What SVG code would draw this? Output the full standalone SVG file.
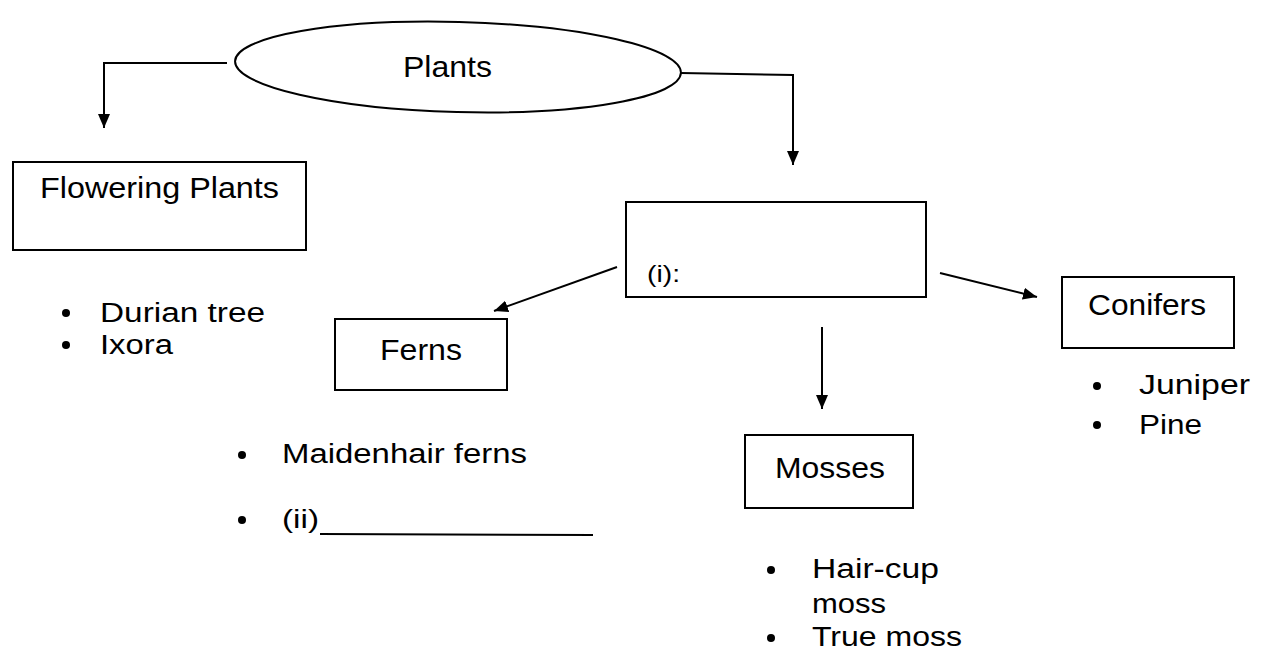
<svg xmlns="http://www.w3.org/2000/svg" width="1266" height="651" viewBox="0 0 1266 651">
<defs>
<style>
.bg{fill:#ffffff}
.box{fill:none;stroke:#000;stroke-width:2}
.ln{fill:none;stroke:#000;stroke-width:2}
.lbl{font-family:"Liberation Sans",Arial,sans-serif;font-size:29px;fill:#000}
.item{font-family:"Liberation Sans",Arial,sans-serif;font-size:27px;fill:#000}
.dot{fill:#000}
</style>
<marker id="ah" markerUnits="userSpaceOnUse" markerWidth="16" markerHeight="14" refX="14" refY="6" orient="auto">
<path d="M0,0 L14,6 L0,12 z" fill="#000"/>
</marker>
</defs>
<rect class="bg" x="0" y="0" width="1266" height="651"/>

<g id="connectors">
<path class="ln" d="M227,63 L104,63 L104,128" marker-end="url(#ah)"/>
<path class="ln" d="M681,73 L793,75 L793,165" marker-end="url(#ah)"/>
<path class="ln" d="M617,267 L494,311" marker-end="url(#ah)"/>
<path class="ln" d="M822,327 L822,409" marker-end="url(#ah)"/>
<path class="ln" d="M940,273 L1037,297" marker-end="url(#ah)"/>
</g>

<g id="plants">
<ellipse class="box" cx="458" cy="67" rx="223" ry="45" transform="rotate(1.5 458 67)"/>
<text class="lbl" x="403" y="77" textLength="89" lengthAdjust="spacingAndGlyphs">Plants</text>
</g>

<g id="flowering">
<rect class="box" x="13" y="162" width="293" height="88"/>
<text class="lbl" x="40" y="198" textLength="239" lengthAdjust="spacingAndGlyphs">Flowering Plants</text>
<circle class="dot" cx="66" cy="313" r="4"/>
<text class="item" x="100" y="322" textLength="165" lengthAdjust="spacingAndGlyphs">Durian tree</text>
<circle class="dot" cx="66" cy="345" r="4"/>
<text class="item" x="100" y="354" textLength="73" lengthAdjust="spacingAndGlyphs">Ixora</text>
</g>

<g id="blank-i">
<rect class="box" x="626" y="202" width="300" height="95"/>
<text class="item" x="647" y="282" style="font-size:24px" textLength="33" lengthAdjust="spacingAndGlyphs">(i):</text>
</g>

<g id="ferns">
<rect class="box" x="335" y="319" width="172" height="71"/>
<text class="lbl" x="380" y="360" textLength="82" lengthAdjust="spacingAndGlyphs">Ferns</text>
<circle class="dot" cx="242" cy="455" r="4"/>
<text class="item" x="282" y="463" textLength="245" lengthAdjust="spacingAndGlyphs">Maidenhair ferns</text>
<circle class="dot" cx="242" cy="520" r="4"/>
<text class="item" x="282" y="528" style="font-size:25px" textLength="37" lengthAdjust="spacingAndGlyphs">(ii)</text>
<line class="ln" x1="320" y1="534" x2="593" y2="535"/>
</g>

<g id="mosses">
<rect class="box" x="745" y="435" width="168" height="73"/>
<text class="lbl" x="775" y="478" textLength="110" lengthAdjust="spacingAndGlyphs">Mosses</text>
<circle class="dot" cx="771" cy="570" r="4"/>
<text class="item" x="812" y="578" textLength="127" lengthAdjust="spacingAndGlyphs">Hair-cup</text>
<text class="item" x="812" y="613" textLength="74" lengthAdjust="spacingAndGlyphs">moss</text>
<circle class="dot" cx="771" cy="638" r="4"/>
<text class="item" x="812" y="646" textLength="150" lengthAdjust="spacingAndGlyphs">True moss</text>
</g>

<g id="conifers">
<rect class="box" x="1062" y="277" width="172" height="71"/>
<text class="lbl" x="1088" y="315" textLength="118" lengthAdjust="spacingAndGlyphs">Conifers</text>
<circle class="dot" cx="1097" cy="386" r="4"/>
<text class="item" x="1139" y="394" textLength="111" lengthAdjust="spacingAndGlyphs">Juniper</text>
<circle class="dot" cx="1097" cy="425" r="4"/>
<text class="item" x="1139" y="434" textLength="63" lengthAdjust="spacingAndGlyphs">Pine</text>
</g>
</svg>
